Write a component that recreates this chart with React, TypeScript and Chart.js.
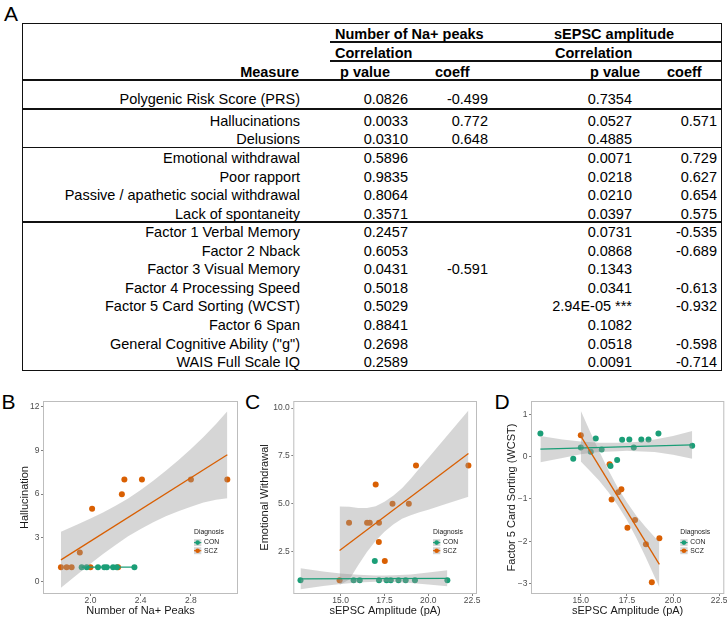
import React, { useEffect, useRef } from "react";
import { Chart, registerables } from "chart.js";
Chart.register(...registerables);

const FONT = "'Liberation Sans', Arial, Helvetica, sans-serif";
const TEAL = "#1B9E77";
const ORANGE = "#D95F02";
const BAND = "rgba(153,153,153,0.4)";

// ---------- Table data ----------
const MEASURES = [
  "Polygenic Risk Score (PRS)",
  "Hallucinations",
  "Delusions",
  "Emotional withdrawal",
  "Poor rapport",
  "Passive / apathetic social withdrawal",
  "Lack of spontaneity",
  "Factor 1 Verbal Memory",
  "Factor 2 Nback",
  "Factor 3 Visual Memory",
  "Factor 4 Processing Speed",
  "Factor 5 Card Sorting (WCST)",
  "Factor 6 Span",
  'General Cognitive Ability ("g")',
  "WAIS Full Scale IQ",
];
const NA_P = ["0.0826", "0.0033", "0.0310", "0.5896", "0.9835", "0.8064", "0.3571", "0.2457", "0.6053", "0.0431", "0.5018", "0.5029", "0.8841", "0.2698", "0.2589"];
const NA_COEFF = ["-0.499", "0.772", "0.648", "", "", "", "", "", "", "-0.591", "", "", "", "", ""];
const SE_P = ["0.7354", "0.0527", "0.4885", "0.0071", "0.0218", "0.0210", "0.0397", "0.0731", "0.0868", "0.1343", "0.0341", "2.94E-05 ***", "0.1082", "0.0518", "0.0091"];
const SE_COEFF = ["", "0.571", "", "0.729", "0.627", "0.654", "0.575", "-0.535", "-0.689", "", "-0.613", "-0.932", "", "-0.598", "-0.714"];
const GROUP_ENDS = [0, 2, 6];
const HEAD_GROUPS = ["Number of Na+ peaks", "sEPSC amplitude"];
const HEAD_SUB = "Correlation";
const HEAD_COLS = ["Measure", "p value", "coeff", "p value", "coeff"];

// ---------- Panel B ----------
const B_X_TICKS = [2.0, 2.4, 2.8];
const B_X_LABELS = ["2.0", "2.4", "2.8"];
const B_Y_TICKS = [0, 3, 6, 9, 12];
const B_Y_LABELS = ["0", "3", "6", "9", "12"];
const B_CON_X = [1.93, 1.97, 2.06, 2.11, 2.13, 2.18, 2.21, 2.35];
const B_CON_Y = [1, 1, 1, 1, 1, 1, 1, 1];
const B_SCZ_X = [1.765, 1.81, 1.85, 1.915, 2.0, 2.013, 2.22, 2.25, 2.27, 2.41, 2.8, 3.09];
const B_SCZ_Y = [1, 1, 1, 2, 1, 5, 1, 6, 7, 7, 7, 7];
const B_CON_LINE_X = [1.93, 2.35];
const B_CON_LINE_Y = [1, 1];
const B_SCZ_LINE_X = [1.765, 3.09];
const B_SCZ_LINE_Y = [1.5, 8.7];
const B_SCZ_BAND_X = [1.765, 1.9, 2.0, 2.1, 2.2, 2.3, 2.4, 2.5, 2.6, 2.7, 2.8, 2.9, 3.0, 3.09];
const B_SCZ_BAND_HI = [3.42, 3.93, 4.33, 4.74, 5.2, 5.71, 6.28, 6.91, 7.6, 8.33, 9.1, 9.92, 10.81, 11.68];
const B_SCZ_BAND_LO = [-0.42, 0.53, 1.23, 1.9, 2.52, 3.11, 3.62, 4.07, 4.48, 4.83, 5.14, 5.42, 5.61, 5.72];

// ---------- Panel C ----------
const CD_X_TICKS = [15, 17.5, 20, 22.5];
const CD_X_LABELS = ["15.0", "17.5", "20.0", "22.5"];
const C_Y_TICKS = [2.5, 5, 7.5, 10];
const C_Y_LABELS = ["2.5", "5.0", "7.5", "10.0"];
const C_CON_X = [12.71, 15.74, 16.09, 16.95, 17.19, 17.62, 17.86, 18.3, 18.71, 19.24, 21.09];
const C_CON_Y = [1, 1, 1, 2, 1, 1, 1, 1, 1, 1, 1];
const C_SCZ_X = [14.94, 15.48, 16.51, 16.66, 17.0, 17.18, 17.19, 17.52, 17.96, 18.89, 19.3, 22.29];
const C_SCZ_Y = [1, 4, 4, 4, 6, 3, 4, 2, 5, 5, 7, 7];
const C_CON_LINE_X = [12.71, 21.09];
const C_CON_LINE_Y = [1.07, 1.1];
const C_SCZ_LINE_X = [14.94, 22.29];
const C_SCZ_LINE_Y = [2.55, 7.62];
const C_SCZ_BAND_X = [14.94, 15.5, 16, 16.5, 17, 17.5, 18, 18.5, 19, 19.5, 20, 21, 22.29];
const C_SCZ_BAND_HI = [4.85, 4.84, 4.78, 4.78, 4.87, 5.1, 5.41, 5.81, 6.3, 6.85, 7.39, 8.48, 9.87];
const C_SCZ_BAND_LO = [0.75, 1.04, 1.78, 2.48, 3.07, 3.54, 3.91, 4.21, 4.4, 4.55, 4.69, 4.98, 5.37];
const C_CON_BAND_X = [12.71, 14, 15, 16, 17, 17.5, 18, 19, 20, 21.09];
const C_CON_BAND_HI = [1.62, 1.45, 1.35, 1.28, 1.25, 1.25, 1.26, 1.3, 1.4, 1.52];
const C_CON_BAND_LO = [0.53, 0.7, 0.8, 0.88, 0.92, 0.92, 0.91, 0.86, 0.78, 0.68];

// ---------- Panel D ----------
const D_Y_TICKS = [-3, -2, -1, 0, 1];
const D_Y_LABELS = ["\u22123", "\u22122", "\u22121", "0", "1"];
const D_CON_X = [12.81, 14.59, 15.0, 15.54, 15.81, 16.13, 16.61, 16.97, 17.24, 17.63, 17.87, 18.28, 18.67, 19.21, 21.04];
const D_CON_Y = [0.55, -0.05, 0.22, 0.12, 0.43, 0.17, -0.22, -0.08, 0.4, 0.41, 0.22, 0.41, 0.41, 0.55, 0.26];
const D_SCZ_X = [15.0, 16.56, 16.67, 17.03, 17.2, 17.53, 17.94, 18.53, 18.85, 19.26];
const D_SCZ_Y = [0.51, -0.18, -1.01, -0.84, -0.77, -1.68, -1.5, -2.07, -2.97, -1.93];
const D_CON_LINE_X = [12.81, 21.04];
const D_CON_LINE_Y = [0.18, 0.28];
const D_SCZ_LINE_X = [15.0, 19.26];
const D_SCZ_LINE_Y = [0.49, -2.55];
const D_SCZ_BAND_X = [15.0, 15.5, 16, 16.5, 17, 17.5, 18, 18.5, 19, 19.26];
const D_SCZ_BAND_HI = [1.09, 0.6, 0.13, -0.32, -0.73, -1.08, -1.39, -1.66, -1.9, -2.01];
const D_SCZ_BAND_LO = [-0.11, -0.34, -0.57, -0.84, -1.15, -1.5, -1.91, -2.36, -2.84, -3.09];
const D_CON_BAND_X = [12.81, 14, 15, 16, 17, 17.5, 18, 19, 20, 21.04];
const D_CON_BAND_HI = [0.49, 0.41, 0.36, 0.33, 0.33, 0.34, 0.35, 0.41, 0.49, 0.61];
const D_CON_BAND_LO = [-0.13, -0.03, 0.06, 0.11, 0.13, 0.14, 0.13, 0.11, 0.05, -0.05];

const LEGEND_TITLE = "Diagnosis";
const LEGEND_NAMES = ["CON", "SCZ"];
const LEGEND_COLORS = [TEAL, ORANGE];

// ---------- helpers ----------
const pts = (xs: number[], ys: number[]) => xs.map((x, i) => ({ x, y: ys[i] }));

function buildDatasets(s: any) {
  const ds: any[] = [];
  const line = (xs: number[], ys: number[], color: string) => ({
    data: pts(xs, ys), borderColor: color, borderWidth: 1.3, pointRadius: 0,
    showLine: true, fill: false, order: 0,
  });
  ds.push(line(s.sczLineX, s.sczLineY, ORANGE));
  ds.push(line(s.conLineX, s.conLineY, TEAL));
  const bands = [] as any[];
  if (s.conBandX) bands.push([s.conBandX, s.conBandLo, s.conBandHi]);
  if (s.sczBandX) bands.push([s.sczBandX, s.sczBandLo, s.sczBandHi]);
  bands.forEach(([bx, lo, hi]) => {
    ds.push({ data: pts(bx, lo), borderColor: "rgba(0,0,0,0)", borderWidth: 0, pointRadius: 0, showLine: true, fill: false, order: 1 });
    ds.push({ data: pts(bx, hi), borderColor: "rgba(0,0,0,0)", borderWidth: 0, pointRadius: 0, showLine: true, fill: "-1", backgroundColor: BAND, order: 1 });
  });
  const p = (xs: number[], ys: number[], color: string) => ({
    data: pts(xs, ys), showLine: false, pointRadius: 3, pointBackgroundColor: color,
    pointBorderWidth: 0, pointBorderColor: color, borderColor: color, order: 2,
  });
  ds.push(p(s.conX, s.conY, TEAL));
  ds.push(p(s.sczX, s.sczY, ORANGE));
  return ds;
}

const CANVAS_TOP = 380;
const CANVAS_H = 239;
const AREA_TOP = 21;
const XAXIS_H = 25;

const panelPlugin = {
  id: "panelDecor",
  afterDraw(chart: any) {
    const { ctx, chartArea } = chart;
    const { left, right, top, bottom } = chartArea;
    ctx.save();
    ctx.strokeStyle = "#bdbdbd";
    ctx.lineWidth = 1;
    ctx.strokeRect(left + 0.5, top + 0.5, right - left - 1, bottom - top - 1);
    const lx = right - 44;
    ctx.fillStyle = "#1a1a1a";
    ctx.textBaseline = "middle";
    ctx.textAlign = "left";
    ctx.font = `6.8px ${FONT}`;
    ctx.fillText(LEGEND_TITLE, lx, bottom - 61.7);
    LEGEND_NAMES.forEach((name, i) => {
      const cy = bottom - 51.4 + i * 8.1;
      ctx.fillStyle = "#d6d6d6";
      ctx.fillRect(lx, cy - 3.5, 7.3, 7);
      ctx.strokeStyle = LEGEND_COLORS[i];
      ctx.lineWidth = 1.1;
      ctx.beginPath();
      ctx.moveTo(lx, cy);
      ctx.lineTo(lx + 7.3, cy);
      ctx.stroke();
      ctx.fillStyle = LEGEND_COLORS[i];
      ctx.beginPath();
      ctx.arc(lx + 3.65, cy, 2.3, 0, Math.PI * 2);
      ctx.fill();
      ctx.fillStyle = "#1a1a1a";
      ctx.fillText(name, lx + 10, cy);
    });
    ctx.restore();
  },
};

function Panel(props: any) {
  const ref = useRef<HTMLCanvasElement>(null);
  useEffect(() => {
    const s = props.spec;
    const tickFont = { family: FONT, size: 8.5, lineHeight: 1 };
    const titleFont = { family: FONT, size: 11, lineHeight: 1.2 };
    const chart = new Chart(ref.current as HTMLCanvasElement, {
      type: "line",
      data: { datasets: buildDatasets(s) },
      options: {
        responsive: false,
        maintainAspectRatio: false,
        animation: false,
        devicePixelRatio: 1,
        events: [],
        layout: { padding: { top: AREA_TOP, right: s.padRight, bottom: 0, left: 0 } },
        plugins: { legend: { display: false }, tooltip: { enabled: false } },
        scales: {
          x: {
            type: "linear",
            min: s.xMin,
            max: s.xMax,
            afterBuildTicks: (sc: any) => { sc.ticks = s.xTicks.map((v: number) => ({ value: v })); },
            afterFit: (sc: any) => { sc.height = XAXIS_H; },
            ticks: {
              callback: (_v: any, i: number) => s.xLabels[i],
              font: tickFont, color: "#4d4d4d", padding: 0, maxRotation: 0, autoSkip: false,
            },
            grid: { display: true, drawOnChartArea: false, drawTicks: true, tickLength: 2, color: "#808080", lineWidth: 1 },
            border: { display: false },
            title: { display: true, text: s.xTitle, font: titleFont, color: "#1a1a1a", padding: { top: 0, bottom: 1.9 } },
          },
          y: {
            type: "linear",
            min: s.yMin,
            max: s.yMax,
            afterBuildTicks: (sc: any) => { sc.ticks = s.yTicks.map((v: number) => ({ value: v })); },
            afterFit: (sc: any) => { sc.width = s.axisWidth; },
            ticks: {
              callback: (_v: any, i: number) => s.yLabels[i],
              font: tickFont, color: "#4d4d4d", padding: 1.5, autoSkip: false,
            },
            grid: { display: true, drawOnChartArea: false, drawTicks: true, tickLength: 2, color: "#808080", lineWidth: 1 },
            border: { display: false },
            title: { display: true, text: s.yTitle, font: titleFont, color: "#1a1a1a", padding: { top: s.yTitlePad, bottom: 0 } },
          },
        },
      } as any,
      plugins: [panelPlugin],
    });
    return () => chart.destroy();
  }, []);
  const s = props.spec;
  return (
    <canvas
      ref={ref}
      width={s.width}
      height={CANVAS_H}
      style={{ position: "absolute", left: s.left, top: CANVAS_TOP, width: s.width, height: CANVAS_H }}
    />
  );
}

const SPEC_B = {
  left: 0, width: 242, padRight: 3, axisWidth: 43, yTitlePad: 18.4,
  xMin: 1.622, xMax: 3.175, yMin: -0.84, yMax: 12.38,
  xTicks: B_X_TICKS, xLabels: B_X_LABELS, yTicks: B_Y_TICKS, yLabels: B_Y_LABELS,
  xTitle: "Number of Na+ Peaks", yTitle: "Hallucination",
  conX: B_CON_X, conY: B_CON_Y, sczX: B_SCZ_X, sczY: B_SCZ_Y,
  conLineX: B_CON_LINE_X, conLineY: B_CON_LINE_Y, sczLineX: B_SCZ_LINE_X, sczLineY: B_SCZ_LINE_Y,
  sczBandX: B_SCZ_BAND_X, sczBandHi: B_SCZ_BAND_HI, sczBandLo: B_SCZ_BAND_LO,
};
const SPEC_C = {
  left: 240, width: 250, padRight: 13, axisWidth: 53.3, yTitlePad: 18.4,
  xMin: 12.3, xMax: 22.78, yMin: 0.28, yMax: 10.37,
  xTicks: CD_X_TICKS, xLabels: CD_X_LABELS, yTicks: C_Y_TICKS, yLabels: C_Y_LABELS,
  xTitle: "sEPSC Amplitude (pA)", yTitle: "Emotional Withdrawal",
  conX: C_CON_X, conY: C_CON_Y, sczX: C_SCZ_X, sczY: C_SCZ_Y,
  conLineX: C_CON_LINE_X, conLineY: C_CON_LINE_Y, sczLineX: C_SCZ_LINE_X, sczLineY: C_SCZ_LINE_Y,
  sczBandX: C_SCZ_BAND_X, sczBandHi: C_SCZ_BAND_HI, sczBandLo: C_SCZ_BAND_LO,
  conBandX: C_CON_BAND_X, conBandHi: C_CON_BAND_HI, conBandLo: C_CON_BAND_LO,
};
const SPEC_D = {
  left: 480, width: 260, padRight: 15.7, axisWidth: 51, yTitlePad: 25.1,
  xMin: 12.3, xMax: 22.78, yMin: -3.25, yMax: 1.32,
  xTicks: CD_X_TICKS, xLabels: CD_X_LABELS, yTicks: D_Y_TICKS, yLabels: D_Y_LABELS,
  xTitle: "sEPSC Amplitude (pA)", yTitle: "Factor 5 Card Sorting (WCST)",
  conX: D_CON_X, conY: D_CON_Y, sczX: D_SCZ_X, sczY: D_SCZ_Y,
  conLineX: D_CON_LINE_X, conLineY: D_CON_LINE_Y, sczLineX: D_SCZ_LINE_X, sczLineY: D_SCZ_LINE_Y,
  sczBandX: D_SCZ_BAND_X, sczBandHi: D_SCZ_BAND_HI, sczBandLo: D_SCZ_BAND_LO,
  conBandX: D_CON_BAND_X, conBandHi: D_CON_BAND_HI, conBandLo: D_CON_BAND_LO,
};

// ---------- table layout ----------
const TFS = 14.5;
const rowY = (i: number) => (i === 0 ? 99 : 121 + (i - 1) * 18.55);
const txtTop = (y: number, fs: number) => y - 0.4885 * fs;

function Txt(p: { x: number; y: number; text: string; align?: "left" | "right"; bold?: boolean; fs?: number }) {
  const fs = p.fs ?? TFS;
  const style: any = {
    position: "absolute", top: txtTop(p.y, fs), fontSize: fs, lineHeight: `${fs}px`,
    fontWeight: p.bold ? "bold" : "normal", whiteSpace: "pre", color: "#000",
  };
  if (p.align === "right") { style.right = 727 - p.x; style.textAlign = "right"; }
  else style.left = p.x;
  return <div style={style}>{p.text}</div>;
}

function HLine(p: { x1: number; x2: number; y: number; w?: number }) {
  const w = p.w ?? 1.3;
  return <div style={{ position: "absolute", left: p.x1, top: p.y - w / 2, width: p.x2 - p.x1, height: w, background: "#111" }} />;
}

function Table() {
  const T_LEFT = 23, T_TOP = 24, T_RIGHT = 721, T_BOTTOM = 370;
  const els: any[] = [];
  els.push(
    <div key="border" style={{ position: "absolute", left: T_LEFT - 0.8, top: T_TOP - 0.8, width: T_RIGHT - T_LEFT, height: T_BOTTOM - T_TOP, border: "1.6px solid #111" }} />
  );
  els.push(<HLine key="h1" x1={330} x2={T_RIGHT} y={42} />);
  els.push(<HLine key="h2" x1={330} x2={T_RIGHT} y={61} />);
  els.push(<HLine key="h3" x1={T_LEFT} x2={T_RIGHT} y={80} />);
  GROUP_ENDS.forEach((g) => {
    const y = (rowY(g) + rowY(g + 1)) / 2 - 1;
    els.push(<HLine key={"g" + g} x1={T_LEFT} x2={T_RIGHT} y={y} />);
  });
  els.push(<Txt key="hg1" x={335} y={34} text={HEAD_GROUPS[0]} bold />);
  els.push(<Txt key="hg2" x={554} y={34} text={HEAD_GROUPS[1]} bold />);
  els.push(<Txt key="hs1" x={335} y={53} text={HEAD_SUB} bold />);
  els.push(<Txt key="hs2" x={555} y={53} text={HEAD_SUB} bold />);
  els.push(<Txt key="hc0" x={299} y={72} text={HEAD_COLS[0]} bold align="right" />);
  els.push(<Txt key="hc1" x={340} y={72} text={HEAD_COLS[1]} bold />);
  els.push(<Txt key="hc2" x={435} y={72} text={HEAD_COLS[2]} bold />);
  els.push(<Txt key="hc3" x={590} y={72} text={HEAD_COLS[3]} bold />);
  els.push(<Txt key="hc4" x={667} y={72} text={HEAD_COLS[4]} bold />);
  MEASURES.forEach((m, i) => {
    const y = rowY(i);
    els.push(<Txt key={"m" + i} x={300} y={y} text={m} align="right" />);
    els.push(<Txt key={"np" + i} x={408} y={y} text={NA_P[i]} align="right" />);
    if (NA_COEFF[i]) els.push(<Txt key={"nc" + i} x={488} y={y} text={NA_COEFF[i]} align="right" />);
    els.push(<Txt key={"sp" + i} x={632} y={y} text={SE_P[i]} align="right" />);
    if (SE_COEFF[i]) els.push(<Txt key={"sc" + i} x={717} y={y} text={SE_COEFF[i]} align="right" />);
  });
  return <>{els}</>;
}

export default function App() {
  return (
    <div
      style={{
        position: "fixed", left: 0, top: 0, width: 727, height: 619, overflow: "hidden",
        background: "#fff", fontFamily: FONT, color: "#000",
      }}
    >
      <Txt x={4} y={13.5} text="A" fs={21} />
      <Table />
      <Txt x={1.5} y={400.8} text="B" fs={21} />
      <Txt x={245} y={400.8} text="C" fs={21} />
      <Txt x={494.5} y={400.8} text="D" fs={21} />
      <Panel spec={SPEC_B} />
      <Panel spec={SPEC_C} />
      <Panel spec={SPEC_D} />
    </div>
  );
}
